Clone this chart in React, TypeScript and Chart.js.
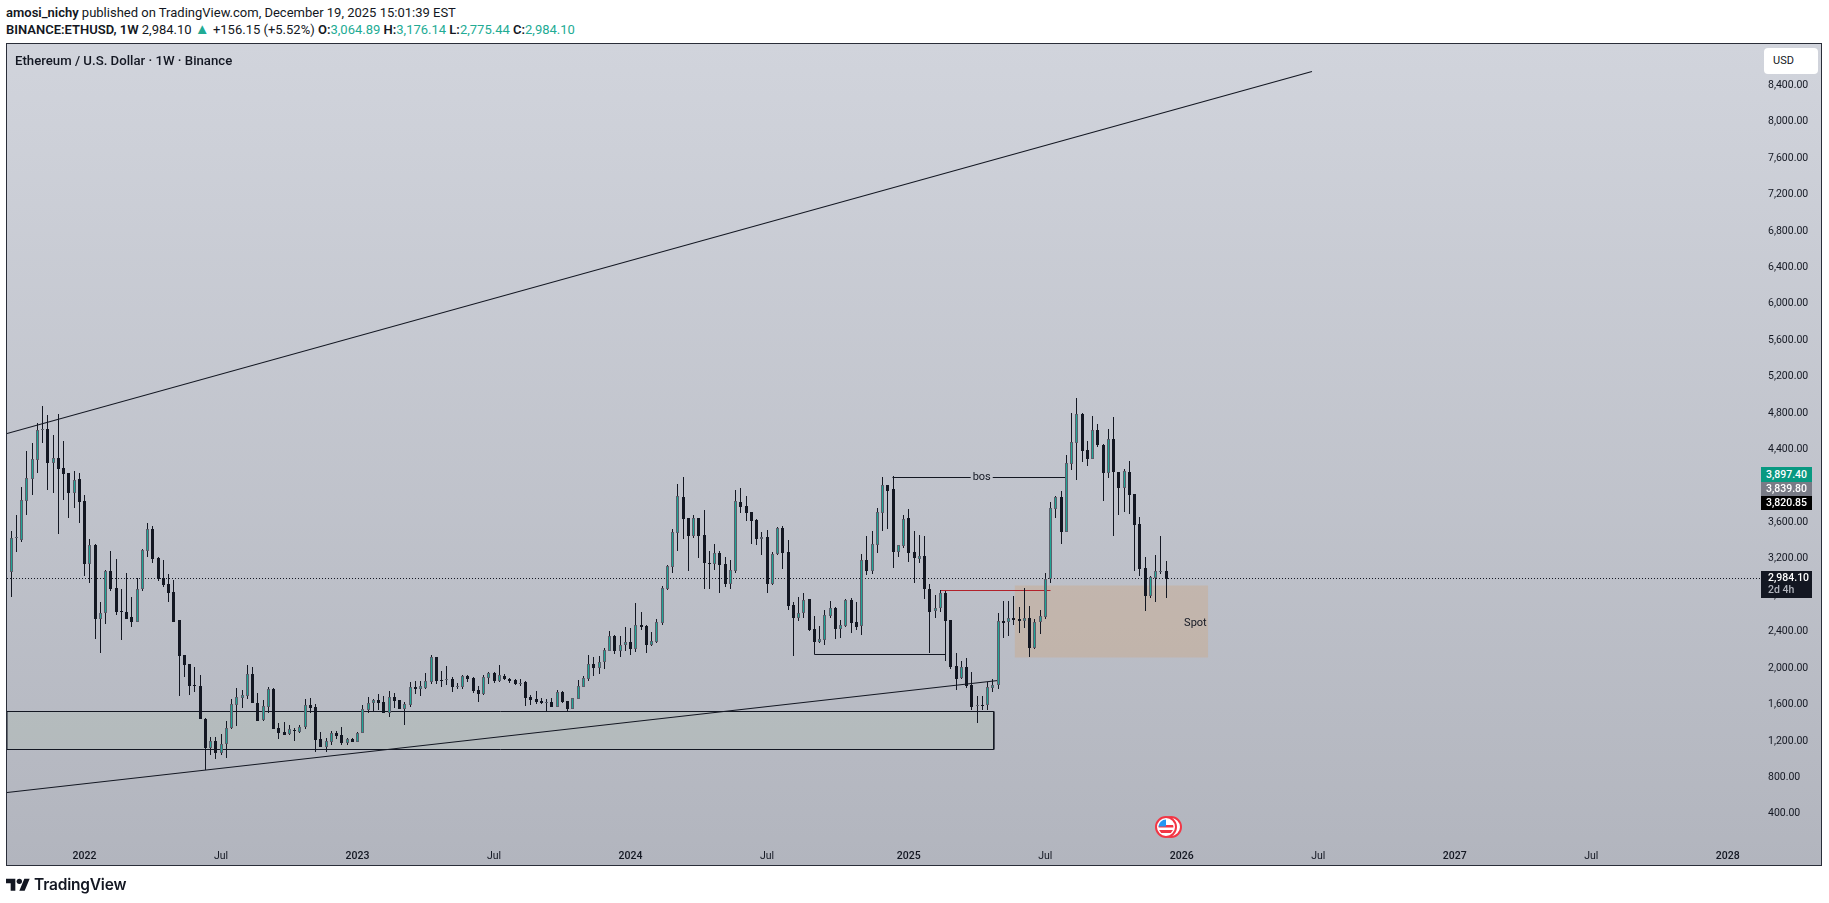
import { useEffect, useRef } from "react"
import { Chart, registerables } from "chart.js"

Chart.register(...registerables)

// weekly ETHUSD candles, week 0 = Sep 27 2021
const opens = [
  3059, 3425, 3407, 3839, 4080, 4285, 4615, 4622, 4256, 4303, 4194, 4139, 3926, 4073, 3831, 3147, 3352, 2543, 2602, 3063,
  2876, 2628, 2612, 2558, 2510, 2865, 3290, 3524, 3209, 2986, 2920, 2832, 2528, 2140, 2045, 1815, 1804, 1438, 1126, 1196,
  1072, 1163, 1339, 1599, 1675, 1697, 1932, 1613, 1430, 1577, 1771, 1339, 1295, 1273, 1320, 1302, 1357, 1595, 1573, 1218,
  1137, 1192, 1291, 1262, 1178, 1218, 1192, 1291, 1540, 1620, 1646, 1624, 1511, 1679, 1646, 1555, 1599, 1793, 1774, 1782,
  1851, 2118, 1873, 1870, 1880, 1795, 1796, 1910, 1891, 1756, 1716, 1895, 1943, 1862, 1917, 1884, 1866, 1830, 1847, 1679,
  1657, 1635, 1620, 1624, 1577, 1738, 1635, 1555, 1664, 1796, 1884, 2045, 2005, 2064, 2192, 2349, 2192, 2258, 2283, 2214,
  2470, 2459, 2250, 2290, 2499, 2872, 3114, 3487, 3875, 3645, 3451, 3645, 3458, 3155, 3147, 3260, 3140, 2927, 3070, 3820,
  3776, 3711, 3623, 3421, 3436, 2927, 3249, 3535, 3271, 2689, 2554, 2609, 2755, 2426, 2290, 2312, 2576, 2657, 2433, 2466,
  2748, 2503, 2459, 3184, 3070, 3352, 3707, 4007, 3963, 3279, 3344, 3645, 3271, 3202, 3227, 2865, 2631, 2656, 2821, 2525,
  2020, 1888, 2009, 1811, 1580, 1595, 1591, 1785, 1811, 2514, 2503, 2547, 2536, 2514, 2547, 2221, 2503, 2565, 2975, 3747,
  3875, 3498, 4245, 4475, 4790, 4391, 4300, 4611, 4450, 4146, 4512, 4150, 3981, 4150, 3908, 3579, 3096, 2796, 2993, 3056,
  3064.89,
]
const highs = [
  3505, 3681, 3985, 4384, 4468, 4688, 4878, 4779, 4560, 4790, 4494, 4146, 4164, 4139, 3897, 3414, 3363, 2730, 3077, 3282,
  3198, 2865, 3041, 2777, 2989, 3304, 3590, 3560, 3216, 3187, 3033, 2967, 2528, 2140, 2045, 2009, 1924, 1449, 1240, 1247,
  1277, 1419, 1657, 1778, 1760, 2034, 2009, 1723, 1650, 1789, 1778, 1401, 1408, 1375, 1339, 1375, 1657, 1672, 1606, 1295,
  1229, 1306, 1309, 1350, 1233, 1229, 1298, 1591, 1679, 1657, 1712, 1694, 1745, 1723, 1650, 1624, 1847, 1858, 1858, 1943,
  2144, 2122, 1965, 2023, 1902, 1840, 1921, 1921, 1902, 1804, 1928, 1957, 1954, 2034, 1935, 1891, 1877, 1880, 1858, 1705,
  1749, 1668, 1657, 1668, 1760, 1749, 1639, 1668, 1866, 1913, 2144, 2122, 2133, 2217, 2404, 2364, 2353, 2452, 2441, 2711,
  2613, 2473, 2397, 2539, 2902, 3129, 3524, 4022, 4095, 3645, 3678, 3645, 3733, 3282, 3363, 3282, 3224, 3184, 3956, 3978,
  3886, 3711, 3634, 3491, 3517, 3271, 3546, 3557, 3407, 2722, 2781, 2821, 2763, 2572, 2463, 2638, 2737, 2667, 2528, 2759,
  2766, 2726, 3253, 3451, 3506, 3755, 4095, 4011, 4109, 3352, 3681, 3743, 3509, 3462, 3451, 2920, 2799, 2858, 2850, 2528,
  2162, 2078, 2107, 1954, 1694, 1694, 1851, 1877, 2609, 2733, 2737, 2792, 2675, 2880, 2682, 2539, 2638, 3048, 3828, 3890,
  3945, 4340, 4801, 4966, 4797, 4494, 4768, 4680, 4461, 4622, 4757, 4157, 4183, 4270, 3908, 3659, 3220, 3011, 3242, 3451,
  3176.14,
]
const lows = [
  2785, 3279, 3388, 3681, 3901, 4146, 4468, 3956, 3926, 3473, 3846, 3652, 3762, 3597, 3015, 2938, 2323, 2170, 2484, 2850,
  2583, 2309, 2539, 2455, 2510, 2843, 3224, 3158, 2960, 2894, 2730, 2503, 1697, 1906, 1708, 1738, 1438, 881, 1050, 1006,
  1046, 1017, 1331, 1368, 1566, 1661, 1613, 1423, 1423, 1504, 1331, 1225, 1266, 1266, 1203, 1291, 1331, 1511, 1083, 1137,
  1083, 1156, 1218, 1156, 1156, 1189, 1192, 1291, 1511, 1522, 1540, 1503, 1463, 1558, 1551, 1375, 1577, 1716, 1694, 1771,
  1825, 1825, 1793, 1815, 1738, 1771, 1771, 1847, 1727, 1628, 1705, 1825, 1836, 1847, 1866, 1836, 1815, 1804, 1584, 1595,
  1606, 1606, 1525, 1569, 1569, 1613, 1525, 1551, 1661, 1789, 1862, 1913, 1936, 1994, 2188, 2159, 2126, 2188, 2148, 2177,
  2422, 2170, 2243, 2280, 2477, 2861, 3044, 3286, 3418, 3070, 3432, 3209, 2869, 2869, 3077, 2825, 2891, 2869, 3044, 3703,
  3615, 3363, 3356, 3242, 2829, 2913, 3246, 3088, 2642, 2137, 2517, 2547, 2411, 2151, 2280, 2258, 2547, 2320, 2331, 2452,
  2386, 2419, 2367, 3026, 3034, 3268, 3509, 3528, 3103, 3224, 3315, 3169, 2938, 3150, 2763, 2170, 2554, 2620, 2078, 1994,
  1763, 1880, 1778, 1540, 1394, 1540, 1540, 1741, 1767, 2334, 2353, 2473, 2389, 2444, 2126, 2206, 2378, 2543, 2938, 3645,
  3366, 3495, 4175, 4069, 4267, 4223, 4292, 4431, 3839, 4091, 3454, 3681, 3714, 3688, 3070, 3015, 2631, 2773, 2730, 3033,
  2775.44,
]
const closes = [
  3425, 3435, 3846, 4084, 4296, 4614, 4628, 4256, 4303, 4190, 4131, 3926, 4066, 3828, 3147, 3352, 2543, 2602, 3066, 2872,
  2620, 2618, 2543, 2510, 2865, 3297, 3524, 3202, 2982, 2916, 2821, 2510, 2137, 2038, 1807, 1805, 1438, 1126, 1196, 1072,
  1163, 1339, 1602, 1679, 1701, 1932, 1613, 1423, 1580, 1767, 1335, 1291, 1269, 1328, 1306, 1357, 1591, 1562, 1211, 1137,
  1196, 1284, 1255, 1178, 1222, 1192, 1287, 1547, 1620, 1646, 1617, 1507, 1679, 1642, 1555, 1602, 1793, 1771, 1800, 1858,
  2118, 1858, 1865, 1880, 1793, 1805, 1910, 1880, 1749, 1716, 1902, 1943, 1862, 1921, 1880, 1862, 1825, 1842, 1672, 1650,
  1624, 1613, 1628, 1573, 1738, 1628, 1551, 1668, 1800, 1891, 2045, 2005, 2064, 2195, 2349, 2192, 2258, 2283, 2214, 2470,
  2455, 2258, 2294, 2503, 2876, 3118, 3491, 3886, 3641, 3454, 3645, 3454, 3158, 3147, 3260, 3136, 2927, 3074, 3831, 3773,
  3707, 3619, 3421, 3436, 2927, 3249, 3535, 3268, 2686, 2554, 2609, 2744, 2422, 2290, 2316, 2580, 2657, 2433, 2470, 2748,
  2495, 2455, 3184, 3070, 3359, 3711, 4007, 3948, 3279, 3348, 3634, 3268, 3213, 3227, 2865, 2620, 2656, 2821, 2521, 2016,
  1884, 2009, 1807, 1577, 1595, 1586, 1789, 1811, 2514, 2499, 2547, 2532, 2514, 2547, 2225, 2503, 2569, 2975, 3754, 3875,
  3498, 4249, 4483, 4790, 4388, 4300, 4611, 4446, 4146, 4512, 4157, 3981, 4161, 3901, 3575, 3092, 2796, 2997, 3063, 3066,
  2984.1,
]

const priceTicks = [400, 800, 1200, 1600, 2000, 2400, 2800, 3200, 3600, 4000, 4400, 4800, 5200, 5600, 6000, 6400, 6800, 7200, 7600, 8000, 8400]
const timeTickWeeks = [14, 40, 66, 92, 118, 144, 171, 197, 223, 249, 275, 301, 327]
const timeTickLabels = ["2022", "Jul", "2023", "Jul", "2024", "Jul", "2025", "Jul", "2026", "Jul", "2027", "Jul", "2028"]

// drawings: [week, price, week, price]
const upperTrend = [-0.76, 4571, 247.8, 8556]
const lowerTrend = [-0.76, 632, 188, 1869]
const bosLeft = [167.9, 4091, 182.8, 4091]
const bosRight = [187, 4091, 200.8, 4091]
const redLevel = [177, 2854, 198, 2854]
const lowLevel = [153, 2151, 178, 2151]
const lastPrice = 2984.1
const demandBox = [-0.76, 1525, 187.2, 1108]
const spotBox = [191.2, 2902, 228, 2115]

const textNotes = [
  { text: "bos", week: 184.9, price: 4091 },
  { text: "Spot", week: 225.6, price: 2495 },
]

const priceTags = [
  { text: "3,897.40", top: 467, height: 15, bg: "#089981" },
  { text: "3,839.80", top: 482, height: 14, bg: "#787b86" },
  { text: "3,820.85", top: 496, height: 14, bg: "#000000" },
]

const INK = "#131722"
const UP = "#1fa596"
const UP_EDGE = "#5a5f6b"
const FONT = "Roboto, sans-serif"

const segment = (s: number[], color = INK, width = 1, order = 3, dash: number[] = []) => ({
  type: "line" as const,
  data: [
    { x: s[0], y: s[1] },
    { x: s[2], y: s[3] },
  ],
  borderColor: color,
  borderWidth: width,
  borderDash: dash,
  pointRadius: 0,
  order,
})

const box = (b: number[], fill: string, stroke: string, width: number) => ({
  type: "line" as const,
  data: [
    { x: b[0], y: b[1] },
    { x: b[2], y: b[1] },
    { x: b[2], y: b[3] },
    { x: b[0], y: b[3] },
    { x: b[0], y: b[1] },
  ],
  fill: "shape",
  backgroundColor: fill,
  borderColor: stroke,
  borderWidth: width,
  pointRadius: 0,
  order: 5,
})

// pixel snapping so candles stay crisp like the original
const snapPlugin = {
  id: "snap",
  afterDatasetsUpdate(chart: any) {
    chart.getSortedVisibleDatasetMetas().forEach((meta: any) => {
      if (meta.type === "bar") {
        meta.data.forEach((el: any) => {
          el.x = Math.floor(el.x) + 0.5
          el.y = Math.round(el.y)
          el.base = Math.round(el.base)
          if (el.y === el.base) el.base = el.y + 1
        })
      } else {
        meta.data.forEach((pt: any) => {
          pt.y = Math.floor(pt.y) + 0.5
        })
      }
    })
  },
}

const notesPlugin = {
  id: "notes",
  afterDatasetsDraw(chart: any) {
    const { ctx, scales } = chart
    ctx.save()
    ctx.fillStyle = INK
    ctx.font = `11px ${FONT}`
    ctx.textAlign = "center"
    ctx.textBaseline = "middle"
    textNotes.forEach((n) => {
      ctx.fillText(n.text, scales.x.getPixelForValue(n.week), scales.y.getPixelForValue(n.price))
    })
    ctx.restore()
  },
}

function EthChart() {
  const chartRef = useRef<HTMLCanvasElement>(null)

  useEffect(() => {
    if (!chartRef.current) return
    const weeks = opens.map((_, i) => i)

    const chart = new Chart(chartRef.current, {
      type: "bar",
      plugins: [snapPlugin, notesPlugin],
      data: {
        datasets: [
          {
            data: weeks.map((i) => ({ x: i, y: [opens[i], closes[i]] })),
            grouped: false,
            barThickness: 3,
            inflateAmount: 0,
            borderSkipped: false,
            borderWidth: 1,
            backgroundColor: weeks.map((i) => (closes[i] >= opens[i] ? UP : "#131722")),
            borderColor: weeks.map((i) => (closes[i] >= opens[i] ? UP_EDGE : "#131722")),
            order: 1,
          },
          {
            data: weeks.map((i) => ({ x: i, y: [lows[i], highs[i]] })),
            grouped: false,
            barThickness: 1,
            inflateAmount: 0,
            borderSkipped: false,
            backgroundColor: "#131722",
            order: 2,
          },
          segment(upperTrend, INK, 1.2),
          segment(lowerTrend, INK, 1.2),
          segment(bosLeft),
          segment(bosRight),
          segment(lowLevel),
          segment(redLevel, "#b2212b"),
          segment([-0.76, lastPrice, 333.14, lastPrice], INK, 1, 4, [1, 2]),
          box(demandBox, "rgba(175,190,170,0.22)", INK, 1),
          box(spotBox, "rgba(205,165,130,0.38)", "rgba(0,0,0,0)", 0),
        ] as any,
      },
      options: {
        animation: false,
        responsive: false,
        devicePixelRatio: 1,
        layout: { padding: { left: 7, right: 7, top: 44, bottom: 37 } },
        plugins: { legend: { display: false }, tooltip: { enabled: false } },
        scales: {
          x: {
            type: "linear",
            offset: false,
            min: -0.762,
            max: 333.14,
            grid: { display: false },
            border: { display: false },
            afterBuildTicks: (axis: any) => {
              axis.ticks = timeTickWeeks.map((value) => ({ value }))
            },
            afterFit: (axis: any) => {
              axis.height = 28
              axis.paddingLeft = 0
              axis.paddingRight = 0
            },
            ticks: {
              autoSkip: false,
              maxRotation: 0,
              padding: 4,
              color: INK,
              font: (ctx: any) => ({
                family: FONT,
                size: 10.5,
                weight: ctx.index % 2 === 0 ? "500" : "400",
              }),
              callback: (value: any) => timeTickLabels[timeTickWeeks.indexOf(value)],
            },
          },
          y: {
            type: "linear",
            position: "right",
            min: 135,
            max: 8853,
            grid: { display: false, drawTicks: false },
            border: { display: false },
            afterBuildTicks: (axis: any) => {
              axis.ticks = priceTicks.map((value) => ({ value }))
            },
            afterFit: (axis: any) => {
              axis.width = 62
              axis.paddingTop = 0
              axis.paddingBottom = 0
            },
            ticks: {
              autoSkip: false,
              padding: 8,
              color: INK,
              font: { family: FONT, size: 10.5 },
              callback: (value: any) => value.toLocaleString("en-US", { minimumFractionDigits: 2 }),
            },
          },
        },
      } as any,
    })

    return () => chart.destroy()
  }, [])

  return <canvas ref={chartRef} width={1829} height={903} style={{ position: "absolute", left: 0, top: 0, display: "block" }} />
}

const abs = (left: number, top: number, extra: any = {}) => ({ position: "absolute", left, top, whiteSpace: "nowrap", ...extra })

export default function App() {
  const teal = { color: "#22ab94" }
  return (
    <div style={{ position: "fixed", left: 0, top: 0, width: 1829, height: 903, background: "#fff", overflow: "hidden", fontFamily: FONT, color: INK }}>
      <div style={abs(6, 5, { fontSize: 13, lineHeight: "16px" }) as any}>
        <b style={{ fontWeight: 600 }}>amosi_nichy</b> published on TradingView.com, December 19, 2025 15:01:39 EST
      </div>
      <div style={abs(6, 22, { fontSize: 13, lineHeight: "16px" }) as any}>
        <b style={{ fontWeight: 600 }}>BINANCE:ETHUSD, 1W</b> 2,984.10 <span style={{ ...teal, fontSize: 15, lineHeight: "14px" }}>▲</span> +156.15 (+5.52%){" "}
        <b style={{ fontWeight: 600 }}>O:</b><span style={teal}>3,064.89</span>{" "}
        <b style={{ fontWeight: 600 }}>H:</b><span style={teal}>3,176.14</span>{" "}
        <b style={{ fontWeight: 600 }}>L:</b><span style={teal}>2,775.44</span>{" "}
        <b style={{ fontWeight: 600 }}>C:</b><span style={teal}>2,984.10</span>
      </div>

      <div style={{ position: "absolute", left: 6, top: 43, width: 1816, height: 823, boxSizing: "border-box", border: "1px solid #2a2e39", background: "linear-gradient(#d1d4dc, #b2b5be)" }} />
      <EthChart />

      <div style={abs(15, 53, { fontSize: 13.2, lineHeight: "16px", fontWeight: 500 }) as any}>Ethereum / U.S. Dollar · 1W · Binance</div>

      <div style={abs(1764, 48, { width: 54, height: 26, background: "#fff", borderRadius: 4, fontSize: 11, lineHeight: "26px", paddingLeft: 9, boxSizing: "border-box" }) as any}>USD</div>

      {priceTags.map((t) => (
        <div key={t.text} style={abs(1761, t.top, { width: 51, height: t.height, background: t.bg, color: "#fff", fontSize: 10.5, fontWeight: 500, lineHeight: `${t.height}px`, textAlign: "center" }) as any}>
          {t.text}
        </div>
      ))}
      <div style={abs(1761, 571, { width: 51, height: 27, background: "#131722", color: "#fff", fontSize: 10.5, lineHeight: "12px", paddingTop: 1, paddingLeft: 7, boxSizing: "border-box", fontWeight: 500 }) as any}>
        2,984.10
        <br />
        <span style={{ color: "#b2b5be" }}>2d 4h</span>
      </div>

      <svg style={{ position: "absolute", left: 1150, top: 810 }} width={40} height={34} viewBox="0 0 40 34">
        <circle cx="21" cy="17" r="10" fill="#fff" stroke="#f23645" strokeWidth="2" />
        <circle cx="16" cy="17" r="10" fill="#fff" stroke="#f23645" strokeWidth="2" />
        <clipPath id="flag"><circle cx="16" cy="17" r="7.5" /></clipPath>
        <g clipPath="url(#flag)">
          <rect x="8" y="15" width="16" height="2.5" fill="#f23645" />
          <rect x="8" y="20" width="16" height="3" fill="#f23645" />
          <rect x="8" y="9" width="8" height="7.5" fill="#2196f3" />
        </g>
      </svg>

      <svg style={{ position: "absolute", left: 6, top: 876 }} width={24} height={16} viewBox="0 0 36 24">
        <path d="M14 22H7V11H0V4h14v18zM28 22h-8l7.5-18h8L28 22z" fill={INK} />
        <circle cx="20" cy="8" r="4" fill={INK} />
      </svg>
      <div style={abs(34, 875, { fontFamily: "Inter, sans-serif", fontSize: 15.5, fontWeight: 600, lineHeight: "20px", letterSpacing: -0.2 }) as any}>TradingView</div>
    </div>
  )
}
